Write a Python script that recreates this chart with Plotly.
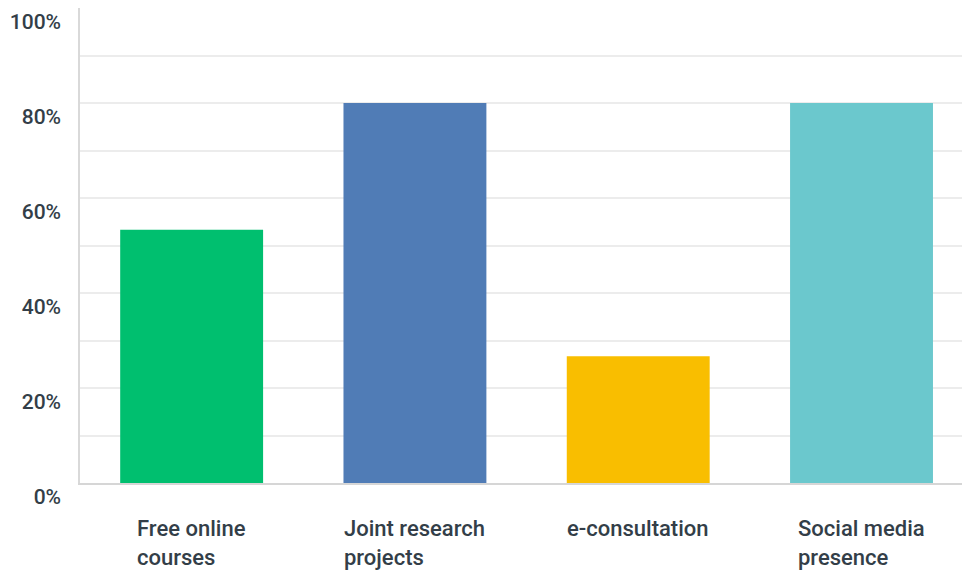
import plotly.graph_objects as go

categories = ["Free online courses", "Joint research projects", "e-consultation", "Social media presence"]
label_lines = ["Free online<br>courses", "Joint research<br>projects", "e-consultation", "Social media<br>presence"]
values = [53.33, 80.0, 26.67, 80.0]
colors = ["#00bf6f", "#507cb6", "#f9be00", "#6bc8cd"]
y_ticks = [0, 20, 40, 60, 80, 100]
y_tick_text = ["0%", "20%", "40%", "60%", "80%", "100%"]

FONT = "Roboto, sans-serif"
TEXT = "#333e48"

fig = go.Figure(
    go.Bar(
        x=categories,
        y=values,
        marker=dict(color=colors, line=dict(width=0)),
        hoverinfo="skip",
    )
)

for cat, lab in zip(categories, label_lines):
    fig.add_annotation(
        x=cat, xref="x", y=0, yref="paper",
        text=lab, showarrow=False, align="left",
        xanchor="center", yanchor="top", yshift=-31,
        font=dict(family=FONT, size=22, color=TEXT, weight=500),
    )

fig.update_layout(
    width=962, height=577,
    margin=dict(l=80, r=0, t=8, b=94),
    paper_bgcolor="white", plot_bgcolor="white",
    bargap=0.36, showlegend=False,
    xaxis=dict(
        range=[-0.5, 3.45], showticklabels=False, ticks="",
        showline=True, linecolor="#d6d6d6", linewidth=2,
        showgrid=False, zeroline=False, fixedrange=True,
    ),
    yaxis=dict(
        range=[0, 100], tickvals=y_ticks, ticktext=y_tick_text,
        showline=True, linecolor="#d9d9d9", linewidth=1.5,
        showgrid=True, gridcolor="#ececec", gridwidth=1.5,
        minor=dict(dtick=10, showgrid=True, gridcolor="#ececec", gridwidth=1.5),
        zeroline=False, ticks="", ticklabelstandoff=13, ticklabelshift=14,
        tickfont=dict(family=FONT, size=21, color=TEXT, weight=500),
        fixedrange=True,
    ),
)

fig.write_html("out.html")
